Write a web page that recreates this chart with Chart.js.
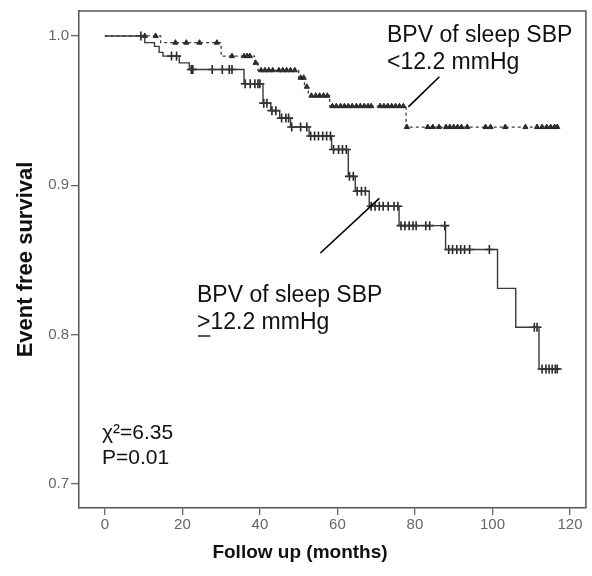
<!DOCTYPE html>
<html><head><meta charset="utf-8">
<script src="https://cdn.jsdelivr.net/npm/chart.js@4"></script>
<style>html,body{margin:0;padding:0;background:#fff;}#wrap{width:592px;height:576px;}</style>
</head><body><div id="wrap"><canvas id="c" width="592" height="576"></canvas></div>
<script>
// ---- data ----
const xTickValues = [0, 20, 40, 60, 80, 100, 120];
const yTickValues = [0.7, 0.8, 0.9, 1.0];

// BPV of sleep SBP < 12.2 mmHg (upper, dashed, triangles)
const lowEventMonths = [14.4, 30.0, 38.6, 39.5, 50.0, 51.5, 52.5, 58.0, 77.7];
const lowSurvival    = [0.9955, 0.9865, 0.982, 0.977, 0.972, 0.966, 0.960, 0.953, 0.939];
const lowCensoredMonths = [10.3, 13.1, 18.2, 21.0, 24.4, 28.9, 32.8, 35.9, 36.7, 37.4, 38.9,
  40.3, 41.3, 42.3, 43.3, 44.9, 45.9, 46.9, 47.9, 49.0, 50.5, 51.3, 52.1,
  53.3, 54.4, 55.4, 56.4, 57.4, 58.7, 59.7, 60.8, 61.8, 62.8, 63.8, 64.9, 65.9, 66.9, 67.9,
  68.7, 71.0, 72.0, 73.0, 74.0, 75.0, 76.0, 77.0,
  77.9, 83.3, 84.6, 86.2, 88.0, 89.0, 90.0, 91.0, 92.0, 93.5, 98.2, 99.5, 103.3, 108.5,
  111.5, 112.8, 114.0, 115.0, 116.0, 116.7];

// BPV of sleep SBP >= 12.2 mmHg (lower, solid, crosses)
const highEventMonths = [10.3, 12.8, 14.0, 15.0, 19.2, 21.8, 35.9, 40.8, 42.8, 45.1, 47.9, 52.7,
  58.5, 62.8, 64.6, 68.2, 75.9, 87.9, 101.3, 106.0, 112.0];
const highSurvival = [0.9955, 0.993, 0.989, 0.9865, 0.982, 0.9775, 0.968, 0.955, 0.950, 0.945, 0.939, 0.933,
  0.924, 0.906, 0.896, 0.886, 0.873, 0.857, 0.831, 0.805, 0.777];
const highCensoredMonths = [9.3, 17.2, 18.5, 22.3, 22.7, 27.7, 30.3, 32.1, 32.8,
  36.2, 37.5, 38.7, 39.5, 40.0, 41.0, 41.8, 43.1, 44.1, 45.6, 46.7, 47.4, 48.2, 50.5, 52.1,
  53.1, 54.1, 55.1, 56.2, 57.2, 58.2, 59.0, 60.3, 61.3, 62.3, 63.1, 64.1, 65.1, 66.2, 67.2,
  68.7, 69.7, 70.8, 71.8, 73.1, 74.6, 75.6, 76.4, 77.4, 78.5, 79.5, 80.3, 82.8, 83.8, 87.7,
  88.7, 89.7, 90.8, 91.8, 92.8, 94.1, 99.2, 110.8, 111.5, 112.8, 113.8, 114.6, 115.4, 116.2, 116.7];

// ---- helpers ----
function survivalAt(times, surv, t) {
  let s = 1;
  for (let i = 0; i < times.length; i++) if (times[i] <= t) s = surv[i];
  return s;
}
function stepPoints(times, surv, endT) {
  const pts = [{x: 0, y: 1}];
  times.forEach((t, i) => pts.push({x: t, y: surv[i]}));
  pts.push({x: endT, y: surv[surv.length - 1]});
  return pts;
}
function censorPoints(times, surv, cens) {
  return cens.map(t => ({x: t, y: survivalAt(times, surv, t)}));
}
const lowEnd = Math.max(...lowCensoredMonths);
const highEnd = Math.max(...highCensoredMonths);

const INK = '#262626';
const FONT = "'Liberation Sans', Arial, Helvetica, sans-serif";
Chart.defaults.font.family = FONT;

const decor = {
  id: 'decor',
  afterDraw(chart) {
    const {ctx, chartArea: a, scales: {x, y}} = chart;
    ctx.save();
    ctx.strokeStyle = '#555';
    ctx.lineWidth = 1.5;
    ctx.beginPath();
    ctx.moveTo(a.left, a.top); ctx.lineTo(a.right, a.top); ctx.lineTo(a.right, a.bottom);
    ctx.stroke();
    ctx.strokeStyle = '#000';
    ctx.lineWidth = 1.6;
    ctx.beginPath();
    ctx.moveTo(x.getPixelForValue(86.3), y.getPixelForValue(0.9727));
    ctx.lineTo(x.getPixelForValue(78.3), y.getPixelForValue(0.9525));
    ctx.moveTo(x.getPixelForValue(55.6), y.getPixelForValue(0.8547));
    ctx.lineTo(x.getPixelForValue(70.8), y.getPixelForValue(0.8913));
    ctx.stroke();
    ctx.fillStyle = '#111';
    ctx.textAlign = 'left';
    ctx.textBaseline = 'middle';
    ctx.font = '23px ' + FONT;
    ctx.fillText('BPV of sleep SBP', 387, 36);
    ctx.fillText('<12.2 mmHg', 387, 63);
    ctx.fillText('BPV of sleep SBP', 197, 296);
    ctx.fillText('>12.2 mmHg', 197, 323);
    const gw = ctx.measureText('>').width;
    ctx.lineWidth = 1.4;
    ctx.strokeStyle = '#111';
    ctx.beginPath();
    ctx.moveTo(198, 336); ctx.lineTo(197 + gw, 336);
    ctx.stroke();
    ctx.font = '21px ' + FONT;
    ctx.fillText('\u03C7\u00B2=6.35', 102, 433);
    ctx.fillText('P=0.01', 102, 458);
    ctx.font = 'bold 19px ' + FONT;
    ctx.textAlign = 'center';
    ctx.fillText('Follow up (months)', 300, 553);
    ctx.font = 'bold 22px ' + FONT;
    ctx.translate(26, (a.top + a.bottom) / 2);
    ctx.rotate(-Math.PI / 2);
    ctx.fillText('Event free survival', 0, 0);
    ctx.restore();
  }
};

new Chart(document.getElementById('c'), {
  type: 'scatter',
  data: {
    datasets: [
      {
        data: stepPoints(highEventMonths, highSurvival, highEnd),
        showLine: true, stepped: 'before', borderColor: '#3a3a3a', borderWidth: 1.4,
        pointRadius: 0, fill: false
      },
      {
        data: censorPoints(highEventMonths, highSurvival, highCensoredMonths),
        showLine: false, pointStyle: 'cross', pointRadius: 4.5, borderColor: INK, borderWidth: 1.6
      },
      {
        data: stepPoints(lowEventMonths, lowSurvival, lowEnd),
        showLine: true, stepped: 'before', borderColor: '#3a3a3a', borderWidth: 1.3,
        borderDash: [3, 3], pointRadius: 0, fill: false
      },
      {
        data: censorPoints(lowEventMonths, lowSurvival, lowCensoredMonths),
        showLine: false, pointStyle: 'triangle', pointRadius: 3, backgroundColor: INK,
        borderColor: INK, borderWidth: 1
      }
    ]
  },
  options: {
    responsive: false, animation: false, devicePixelRatio: 1,
    layout: {padding: {left: 0, right: 3, top: 9, bottom: 0}},
    plugins: {legend: {display: false}, tooltip: {enabled: false}},
    scales: {
      x: {
        type: 'linear', min: -6.67, max: 124.1,
        afterBuildTicks: s => { s.ticks = xTickValues.map(v => ({value: v})); },
        afterFit: s => { s.height = 68; },
        ticks: {color: '#666', font: {size: 15}, padding: 1, maxRotation: 0, autoSkip: false},
        grid: {drawOnChartArea: false, drawTicks: true, tickLength: 7, color: '#666', lineWidth: 1.3},
        border: {color: '#555', width: 1.5}
      },
      y: {
        type: 'linear', min: 0.684, max: 1.0167,
        afterBuildTicks: s => { s.ticks = yTickValues.map(v => ({value: v})); },
        afterFit: s => { s.width = 79; },
        ticks: {color: '#666', font: {size: 15}, padding: 2, callback: v => Number(v).toFixed(1), autoSkip: false},
        grid: {drawOnChartArea: false, drawTicks: true, tickLength: 8, color: '#666', lineWidth: 1.3},
        border: {color: '#555', width: 1.5}
      }
    }
  },
  plugins: [decor]
});
</script></body></html>
